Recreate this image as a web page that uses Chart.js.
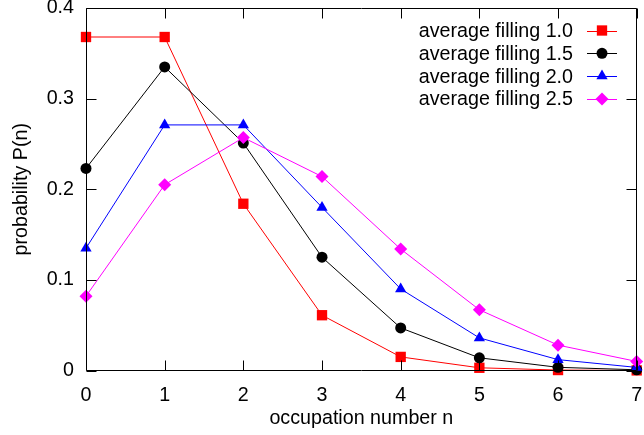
<!DOCTYPE html>
<html><head><meta charset="utf-8">
<script src="https://cdn.jsdelivr.net/npm/chart.js@4"></script>
<style>html,body{margin:0;padding:0;background:#fff}canvas{display:block}</style>
</head><body>
<canvas id="c" width="644" height="435"></canvas>
<script>
const occupation = [0, 1, 2, 3, 4, 5, 6, 7];
const filling10 = [0.368, 0.368, 0.184, 0.061, 0.015, 0.003, 0.0005, 0.0001];
const filling15 = [0.223, 0.335, 0.251, 0.125, 0.047, 0.014, 0.0035, 0.0008];
const filling20 = [0.135, 0.271, 0.271, 0.180, 0.090, 0.036, 0.012, 0.0034];
const filling25 = [0.082, 0.205, 0.257, 0.214, 0.134, 0.067, 0.028, 0.010];
const seriesNames = ['average filling 1.0', 'average filling 1.5', 'average filling 2.0', 'average filling 2.5'];
const xTicks = [0, 1, 2, 3, 4, 5, 6, 7];
const yTicks = [0, 0.1, 0.2, 0.3, 0.4];

const FONT = '"Liberation Sans", Arial, sans-serif';
const FS = 19.7;
const styles = [
  {color: '#ff0000', pointStyle: 'rect', r: 7.3},
  {color: '#000000', pointStyle: 'circle', r: 5.5},
  {color: '#0000ff', pointStyle: 'triangle', r: 6.5},
  {color: '#ff00ff', pointStyle: 'rectRot', r: 6.5}
];
const allSeries = [filling10, filling15, filling20, filling25];

const datasets = allSeries.map((vals, i) => ({
  label: seriesNames[i],
  data: occupation.map((x, k) => ({x: x, y: vals[k]})),
  borderColor: styles[i].color,
  backgroundColor: styles[i].color,
  pointBackgroundColor: styles[i].color,
  pointBorderColor: styles[i].color,
  pointBorderWidth: 0,
  pointStyle: styles[i].pointStyle,
  pointRadius: styles[i].r,
  borderWidth: 1,
  tension: 0,
  clip: false,
  order: 3 - i
}));

const framePlugin = {
  id: 'frame',
  afterDatasetsDraw(chart) {
    const ctx = chart.ctx, a = chart.chartArea;
    const xs = chart.scales.x, ys = chart.scales.y;
    ctx.save();
    ctx.strokeStyle = '#000';
    ctx.lineWidth = 1;
    ctx.beginPath();
    const L = Math.round(a.left) + 0.5, R = Math.round(a.right) - 0.5;
    const T = Math.round(a.top) + 0.5, B = Math.round(a.bottom) - 0.5;
    ctx.rect(L, T, R - L, B - T);
    const tl = 10;
    xTicks.forEach(v => {
      const px = Math.round(xs.getPixelForValue(v)) + 0.5;
      ctx.moveTo(px, B); ctx.lineTo(px, B - tl);
      ctx.moveTo(px, T); ctx.lineTo(px, T + tl);
    });
    yTicks.forEach(v => {
      const py = Math.round(ys.getPixelForValue(v)) + 0.5;
      ctx.moveTo(L, py); ctx.lineTo(L + tl, py);
      ctx.moveTo(R, py); ctx.lineTo(R - tl, py);
    });
    ctx.stroke();
    ctx.restore();
  },
  afterDraw(chart) {
    const ctx = chart.ctx;
    ctx.save();
    ctx.font = FS + 'px ' + FONT;
    ctx.textAlign = 'right';
    ctx.textBaseline = 'middle';
    const textRight = 573, lineL = 587, lineR = 617, y0 = 30.5, dy = 22.8;
    chart.data.datasets.forEach((ds, i) => {
      const y = y0 + i * dy;
      ctx.fillStyle = '#000';
      ctx.fillText(ds.label, textRight, y + 1);
      ctx.strokeStyle = ds.borderColor;
      ctx.lineWidth = 1;
      ctx.beginPath();
      ctx.moveTo(lineL, Math.round(y) + 0.5); ctx.lineTo(lineR, Math.round(y) + 0.5);
      ctx.stroke();
      ctx.fillStyle = ds.backgroundColor;
      ctx.strokeStyle = ds.backgroundColor;
      Chart.helpers.drawPoint(ctx, {pointStyle: ds.pointStyle, radius: ds.pointRadius, borderWidth: 0, rotation: 0}, (lineL + lineR) / 2, y);
    });
    ctx.restore();
  }
};

new Chart(document.getElementById('c'), {
  type: 'line',
  data: {datasets},
  options: {
    responsive: false,
    animation: false,
    devicePixelRatio: 1,
    layout: {padding: {left: 0, right: 5, top: 8, bottom: 0}},
    plugins: {legend: {display: false}, tooltip: {enabled: false}},
    elements: {point: {hoverRadius: 0}},
    scales: {
      x: {
        type: 'linear', min: 0, max: 7,
        afterBuildTicks: s => { s.ticks = xTicks.map(v => ({value: v})); },
        afterFit: s => { s.height = 64.5; s.paddingLeft = 0; s.paddingRight = 0; },
        grid: {display: false, drawTicks: false},
        border: {display: false},
        ticks: {color: '#000', font: {family: FONT, size: FS}, padding: 13, maxRotation: 0, autoSkip: false},
        title: {display: true, text: 'occupation number n', color: '#000', font: {family: FONT, size: FS}, padding: {top: 0, bottom: 5}}
      },
      y: {
        type: 'linear', min: 0, max: 0.4,
        afterBuildTicks: s => { s.ticks = yTicks.map(v => ({value: v})); },
        afterFit: s => { s.width = 86; s.paddingTop = 0; s.paddingBottom = 0; },
        grid: {display: false, drawTicks: false},
        border: {display: false},
        ticks: {color: '#000', font: {family: FONT, size: FS}, padding: 12, callback: v => String(v)},
        title: {display: true, text: 'probability P(n)', color: '#000', font: {family: FONT, size: FS}, padding: {top: 10, bottom: 0}}
      }
    }
  },
  plugins: [framePlugin]
});
</script>
</body></html>
